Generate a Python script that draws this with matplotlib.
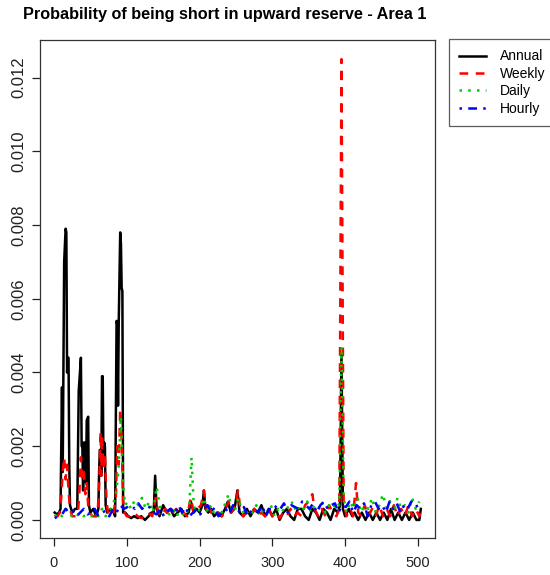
import matplotlib
matplotlib.use("Agg")
import matplotlib.pyplot as plt
import numpy as np

plt.rcParams['font.family'] = ['Liberation Sans', 'DejaVu Sans']

# Annual (black, solid)
annual_x = [1, 4, 7, 9, 11, 12, 14, 16, 17, 18, 19, 20, 21, 22, 25, 29, 32, 34, 36, 37,
            38, 39, 40, 41, 43, 44, 45, 47, 48, 50, 54, 58, 61, 62, 63, 64, 65, 66, 67, 68,
            69, 70, 71, 73, 78, 82, 84, 86, 87, 88, 89, 91, 92, 93, 94, 95, 98, 102, 106, 110,
            115, 120, 125, 130, 134, 137, 139, 141, 145, 150, 155, 160, 165, 170, 175, 180, 185, 188, 192, 196,
            200, 204, 206, 208, 212, 216, 220, 225, 230, 235, 239, 243, 248, 252, 255, 260, 265, 270, 275, 280,
            285, 290, 295, 300, 305, 310, 315, 320, 325, 330, 335, 340, 345, 350, 355, 360, 365, 370, 375, 380,
            385, 390, 393, 395, 397, 400, 405, 410, 413, 418, 423, 428, 433, 438, 443, 448, 453, 458, 463, 468,
            473, 478, 483, 488, 493, 498, 502, 504]
annual_y = [0.0002, 0.00015, 0.0002, 0.0003, 0.0036, 0.0013, 0.0070, 0.0079, 0.0078, 0.0040,
            0.0044, 0.0044, 0.0015, 0.0004, 0.0002, 0.0003, 0.0003, 0.0035, 0.0041, 0.0044,
            0.0020, 0.0020, 0.0008, 0.0021, 0.0021, 0.0010, 0.0027, 0.0028, 0.0004, 0.0002,
            0.0003, 0.0001, 0.0003, 0.0013, 0.0019, 0.0019, 0.0012, 0.0039, 0.0039, 0.0015,
            0.0021, 0.0020, 0.0004, 0.0002, 0.0003, 0.0002, 0.0001, 0.0054, 0.0053, 0.0031,
            0.0054, 0.0078, 0.0075, 0.0063, 0.0062, 0.0002, 0.0002, 0.0001, 0.00005, 0.0001,
            0.00005, 0.0001, 0.0, 0.0001, 0.0002, 0.0002, 0.0012, 0.0003, 0.0001, 0.0004,
            0.0002, 0.0003, 0.0001, 0.0002, 0.0003, 0.0001, 0.0002, 0.0005, 0.0002, 0.0003,
            0.0002, 0.0004, 0.0008, 0.0003, 0.0002, 0.0003, 0.0001, 0.0002, 0.0001, 0.0003,
            0.0005, 0.0002, 0.0003, 0.0008, 0.0002, 0.0001, 0.0003, 0.0001, 0.0003, 0.0002,
            0.0004, 0.0001, 0.0003, 0.0001, 0.0003, 0.0, 0.0002, 0.0003, 0.0001, 0.0,
            0.0003, 0.0003, 0.0001, 0.0, 0.0003, 0.0002, 0.0, 0.0003, 0.0002, 0.0,
            0.0003, 0.0002, 0.0004, 0.0045, 0.0003, 0.0001, 0.0003, 0.0001, 0.0002, 0.0,
            0.0002, 0.0, 0.0002, 0.0, 0.0002, 0.0, 0.0002, 0.0, 0.0003, 0.0,
            0.0002, 0.0, 0.0002, 0.0, 0.0002, 0.0, 0.0, 0.0003]

# Weekly (red, dashed)
weekly_x = [1, 5, 8, 10, 12, 14, 16, 18, 20, 22, 25, 30, 33, 35, 37, 39, 41, 43, 45, 47,
            49, 53, 57, 60, 62, 64, 65, 66, 68, 70, 72, 74, 78, 82, 85, 87, 89, 91, 93, 95,
            97, 100, 105, 110, 115, 120, 125, 130, 135, 140, 143, 148, 153, 158, 163, 168, 173, 178, 183, 188,
            192, 197, 202, 206, 209, 212, 216, 221, 226, 231, 236, 240, 244, 249, 253, 256, 260, 265, 270, 275,
            280, 285, 290, 295, 300, 305, 310, 315, 320, 325, 330, 335, 340, 345, 350, 355, 358, 363, 368, 373,
            378, 383, 388, 392, 395, 398, 402, 407, 411, 415, 418, 422, 427, 432, 437, 442, 447, 452, 457, 462,
            467, 472, 477, 482, 487, 492, 497, 502, 504]
weekly_y = [0.0001, 0.0001, 0.0002, 0.0006, 0.0013, 0.0017, 0.0011, 0.0015, 0.0008, 0.0003,
            0.0001, 0.0001, 0.0002, 0.0008, 0.0017, 0.0011, 0.0013, 0.0007, 0.0010, 0.0004,
            0.0002, 0.0001, 0.0001, 0.0002, 0.0009, 0.0024, 0.0012, 0.0023, 0.0014, 0.0018,
            0.0006, 0.0002, 0.0001, 0.0002, 0.0006, 0.0020, 0.0015, 0.0030, 0.0022, 0.0005,
            0.0002, 0.0001, 0.0001, 0.0002, 0.0001, 0.00005, 0.0001, 0.0002, 0.0001, 0.0006,
            0.0002, 0.0001, 0.0003, 0.0001, 0.0002, 0.0003, 0.0001, 0.0002, 0.0001, 0.0006,
            0.0002, 0.0003, 0.0004, 0.0008, 0.0003, 0.0005, 0.0002, 0.0001, 0.0002, 0.0001,
            0.0003, 0.0005, 0.0002, 0.0004, 0.0008, 0.0003, 0.0001, 0.0002, 0.0001, 0.0003,
            0.0001, 0.0002, 0.0001, 0.0003, 0.0001, 0.0002, 0.00005, 0.0002, 0.0001, 0.0003,
            0.0001, 0.0002, 0.0001, 0.0004, 0.0005, 0.0007, 0.0003, 0.0001, 0.0003, 0.0001,
            0.0004, 0.0002, 0.0001, 0.0003, 0.0125, 0.0005, 0.0001, 0.0003, 0.0001, 0.0010,
            0.0002, 0.0001, 0.0004, 0.0001, 0.0003, 0.0001, 0.0004, 0.0001, 0.0003, 0.0001,
            0.0004, 0.0001, 0.0003, 0.0001, 0.0004, 0.0001, 0.0003, 0.0001, 0.0003]

# Daily (green, dotted)
daily_x = [1, 6, 11, 16, 21, 26, 31, 36, 41, 46, 51, 56, 61, 66, 71, 76, 81, 86, 89, 92,
           95, 98, 101, 106, 111, 116, 121, 126, 131, 136, 141, 146, 151, 156, 161, 166, 171, 176, 181, 186,
           189, 192, 196, 201, 206, 211, 216, 221, 226, 231, 236, 240, 244, 248, 253, 258, 263, 268, 273, 278,
           283, 288, 293, 298, 303, 308, 313, 318, 323, 328, 333, 338, 343, 348, 353, 358, 363, 368, 373, 378,
           383, 388, 392, 395, 398, 402, 407, 412, 417, 422, 427, 432, 437, 442, 447, 452, 457, 462, 467, 472,
           477, 482, 487, 492, 497, 502]
daily_y = [0.0001, 0.0002, 0.0001, 0.0003, 0.0002, 0.00005, 0.0001, 0.0002, 0.0001, 0.00015,
           0.0001, 0.0002, 0.0001, 0.0003, 0.0001, 0.0002, 0.0004, 0.0008, 0.0015, 0.0028,
           0.0009, 0.0004, 0.0005, 0.0003, 0.00055, 0.0004, 0.0006, 0.0003, 0.0005, 0.0002,
           0.0009, 0.0003, 0.0001, 0.0002, 0.0001, 0.0003, 0.0001, 0.0002, 0.0001, 0.0004,
           0.0017, 0.0004, 0.0002, 0.0003, 0.0006, 0.0002, 0.0004, 0.0001, 0.0003, 0.0002,
           0.0005, 0.0007, 0.0003, 0.0002, 0.0006, 0.0003, 0.0001, 0.0003, 0.0002, 0.0004,
           0.0001, 0.0003, 0.0002, 0.0004, 0.0001, 0.0003, 0.0002, 0.0004, 0.0003, 0.0005,
           0.0002, 0.0004, 0.0003, 0.0005, 0.0002, 0.0004, 0.0003, 0.0005, 0.0002, 0.0004,
           0.0003, 0.0005, 0.0004, 0.0047, 0.0006, 0.0002, 0.0005, 0.0003, 0.0006, 0.0002,
           0.0004, 0.0003, 0.0006, 0.0002, 0.0004, 0.0007, 0.0003, 0.0005, 0.0002, 0.0006,
           0.0003, 0.0004, 0.0002, 0.0006, 0.0003, 0.0005]

# Hourly (blue, dash-dot)
hourly_x = [1, 6, 11, 16, 21, 26, 31, 36, 41, 46, 51, 56, 61, 66, 71, 76, 81, 86, 91, 96,
            101, 106, 111, 116, 121, 126, 131, 136, 141, 146, 151, 156, 161, 166, 171, 176, 181, 186, 191, 196,
            201, 206, 211, 216, 221, 226, 231, 236, 241, 246, 251, 256, 261, 266, 271, 276, 281, 286, 291, 296,
            301, 306, 311, 316, 321, 326, 331, 336, 341, 346, 351, 356, 361, 366, 371, 376, 381, 386, 391, 396,
            401, 406, 411, 416, 421, 426, 431, 436, 441, 446, 451, 456, 461, 466, 471, 476, 481, 486, 491, 496,
            501]
hourly_y = [0.00005, 0.0001, 0.00015, 0.0003, 0.0002, 0.00025, 0.0001, 0.0002, 0.0003, 0.00015,
            0.0002, 0.0003, 0.0001, 0.0002, 0.00025, 0.0001, 0.0003, 0.0002, 0.0004, 0.0003,
            0.00035, 0.0004, 0.0003, 0.00045, 0.0003, 0.0004, 0.00035, 0.0002, 0.00015, 0.0003,
            0.0001, 0.00025, 0.0003, 0.00015, 0.0004, 0.0002, 0.00035, 0.0001, 0.0002, 0.0003,
            0.00015, 0.0003, 0.0004, 0.0002, 0.00035, 0.0001, 0.0002, 0.0003, 0.00015, 0.0004,
            0.0003, 0.0002, 0.00035, 0.0001, 0.00025, 0.0003, 0.0002, 0.0004, 0.0001, 0.0003,
            0.00025, 0.0004, 0.0003, 0.00045, 0.0002, 0.0004, 0.00035, 0.0003, 0.0005, 0.0004,
            0.0003, 0.00045, 0.0002, 0.0004, 0.0005, 0.0003, 0.0004, 0.00045, 0.0002, 0.0004,
            0.00035, 0.0005, 0.0002, 0.0004, 0.0003, 0.00045, 0.0001, 0.0004, 0.0005, 0.0003,
            0.0004, 0.0002, 0.0005, 0.0003, 0.00045, 0.0002, 0.0004, 0.0003, 0.0005, 0.00035,
            0.0004]

x_ticks = [0, 100, 200, 300, 400, 500]
y_ticks = [0.0, 0.002, 0.004, 0.006, 0.008, 0.010, 0.012]

fig = plt.figure(figsize=(5.5, 5.75), dpi=100)
ax = fig.add_axes([40 / 550, 37 / 575, 395 / 550, 498 / 575])

lw = 1.8
ax.plot(annual_x, annual_y, color='black', lw=lw, label='Annual')
ax.plot(weekly_x, weekly_y, color='#FF0000', lw=lw, dashes=(3.5, 3), label='Weekly')
ax.plot(daily_x, daily_y, color='#00CD00', lw=lw, dashes=(1, 2.5), label='Daily')
ax.plot(hourly_x, hourly_y, color='#0000FF', lw=lw, dashes=(1, 2.5, 3.5, 2.5), label='Hourly')

ax.set_xlim(-19.2, 523.5)
ax.set_ylim(-0.00049, 0.01302)
ax.set_xticks(x_ticks)
ax.set_yticks(y_ticks)
ax.set_yticklabels(['%.3f' % v for v in y_ticks], rotation=90, va='center')
ax.tick_params(direction='out', length=6, width=0.9, colors='#222222')
ax.tick_params(axis='x', labelsize=10.5, pad=7)
ax.tick_params(axis='y', labelsize=12, pad=3.5)
for s in ax.spines.values():
    s.set_linewidth(0.9)
    s.set_color('#333333')

fig.text(225 / 550, 1 - 14 / 575, 'Probability of being short in upward reserve - Area 1',
         ha='center', va='center', fontsize=11.7, fontweight='bold')

leg = fig.legend(loc='upper left', bbox_to_anchor=(449 / 550, 1 - 39 / 575),
                 fontsize=10, frameon=True, fancybox=False, edgecolor='#333333',
                 borderaxespad=0, handlelength=1.9, handletextpad=1.0,
                 labelspacing=0.25, borderpad=0.75)
leg.get_frame().set_linewidth(0.9)

fig.savefig('out.png', dpi=100)
